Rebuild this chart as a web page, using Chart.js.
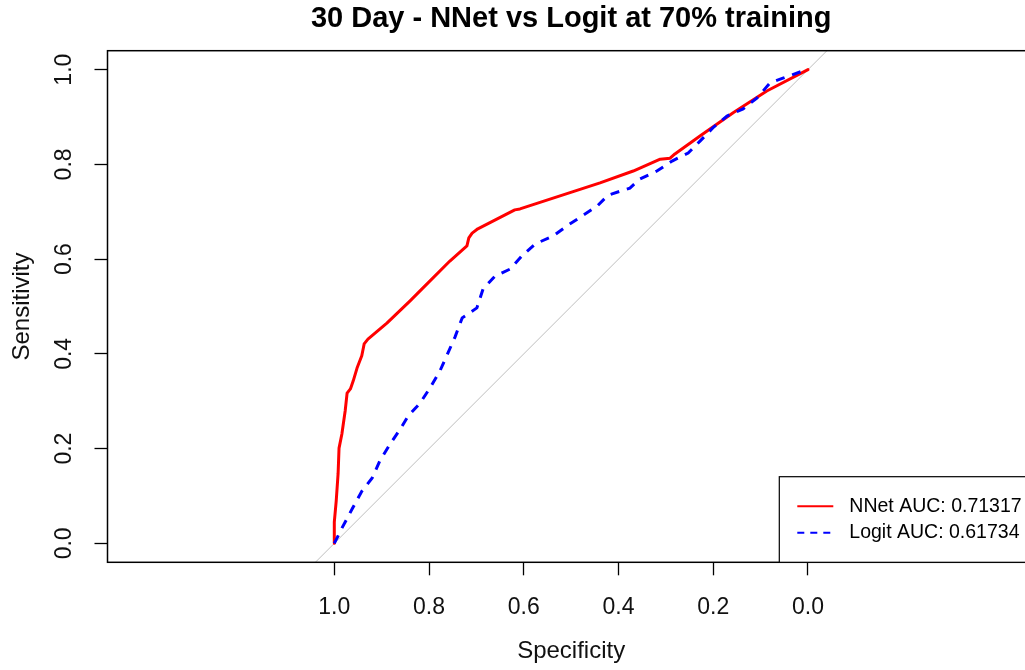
<!DOCTYPE html>
<html>
<head>
<meta charset="utf-8">
<title>30 Day - NNet vs Logit at 70% training</title>
<script src="https://cdn.jsdelivr.net/npm/chart.js@4.4.1/dist/chart.umd.min.js"></script>
<style>
  html, body { margin: 0; padding: 0; background: #fff; overflow: hidden; }
  #wrap { width: 1060px; height: 670px; }
</style>
</head>
<body>
<div id="wrap"><canvas id="rocChart" width="1060" height="670"></canvas></div>
<script>
// ROC curve points (specificity, sensitivity)
const nnetSpec = [1.0, 1.0, 0.996, 0.992, 0.990, 0.984, 0.977, 0.973, 0.966, 0.960, 0.952, 0.942, 0.937, 0.929, 0.889, 0.840, 0.819, 0.756, 0.720, 0.716, 0.709, 0.697, 0.619, 0.608, 0.439, 0.369, 0.312, 0.291, 0.281, 0.228, 0.158, 0.087, 0.0];
const nnetSens = [0.0, 0.045, 0.089, 0.147, 0.201, 0.231, 0.280, 0.317, 0.326, 0.343, 0.370, 0.396, 0.421, 0.431, 0.465, 0.512, 0.533, 0.596, 0.628, 0.645, 0.655, 0.664, 0.704, 0.706, 0.761, 0.786, 0.811, 0.813, 0.822, 0.860, 0.909, 0.955, 1.0];

const logitSpec = [1.0, 0.984, 0.961, 0.942, 0.920, 0.904, 0.882, 0.861, 0.844, 0.819, 0.798, 0.777, 0.760, 0.745, 0.730, 0.699, 0.686, 0.661, 0.629, 0.604, 0.576, 0.538, 0.509, 0.477, 0.445, 0.422, 0.376, 0.355, 0.319, 0.287, 0.253, 0.228, 0.201, 0.171, 0.137, 0.108, 0.080, 0.053, 0.006, 0.0];
const logitSens = [0.0, 0.032, 0.075, 0.110, 0.138, 0.174, 0.210, 0.241, 0.269, 0.296, 0.328, 0.364, 0.402, 0.436, 0.476, 0.497, 0.537, 0.564, 0.579, 0.607, 0.632, 0.649, 0.670, 0.691, 0.712, 0.735, 0.750, 0.769, 0.786, 0.807, 0.824, 0.849, 0.877, 0.902, 0.917, 0.940, 0.972, 0.982, 0.999, 1.0];

// chance line, runs corner to corner of the plot box
const diagSpec = [1.04, -0.04];
const diagSens = [-0.04, 1.04];

const xTicks = [1.0, 0.8, 0.6, 0.4, 0.2, 0.0];
const yTicks = [0.0, 0.2, 0.4, 0.6, 0.8, 1.0];
const seriesLabels = ['NNet AUC: 0.71317', 'Logit AUC: 0.61734'];
const chartTitle = '30 Day - NNet vs Logit at 70% training';

const FONT = '"Liberation Sans", Arial, sans-serif';
Chart.defaults.font.family = FONT;
Chart.defaults.color = '#000';

function zip(xs, ys) {
  return xs.map((x, i) => ({ x: x, y: ys[i] }));
}

// Title over the plot region, frame round the plot, legend box bottom right
const frameAndLegend = {
  id: 'frameAndLegend',
  afterDraw(chart) {
    const { ctx, chartArea } = chart;
    const ca = chartArea;
    ctx.save();

    ctx.fillStyle = '#000';
    ctx.font = 'bold 29px ' + FONT;
    ctx.textAlign = 'center';
    ctx.textBaseline = 'middle';
    ctx.fillText(chartTitle, (ca.left + ca.right) / 2, 19);

    ctx.strokeStyle = '#000';
    ctx.lineWidth = 1.5;
    ctx.strokeRect(ca.left, ca.top, ca.right - ca.left, ca.bottom - ca.top);

    // legend
    const lx = ca.right - 255.5;
    const ly = ca.bottom - 85.6;
    ctx.fillStyle = '#fff';
    ctx.fillRect(lx, ly, ca.right - lx, ca.bottom - ly);
    ctx.lineWidth = 1.2;
    ctx.strokeRect(lx, ly, ca.right - lx, ca.bottom - ly);

    const rows = [ly + 29.5, ly + 56];
    chart.data.datasets.slice(0, 2).forEach((ds, i) => {
      ctx.beginPath();
      ctx.strokeStyle = ds.borderColor;
      ctx.lineWidth = 2;
      ctx.setLineDash(ds.borderDash ? [7, 6] : []);
      ctx.moveTo(lx + 18, rows[i]);
      ctx.lineTo(lx + 54, rows[i]);
      ctx.stroke();
      ctx.setLineDash([]);
      ctx.fillStyle = '#000';
      ctx.font = '19.5px ' + FONT;
      ctx.textAlign = 'left';
      ctx.textBaseline = 'middle';
      ctx.fillText(ds.label, lx + 70, rows[i]);
    });
    ctx.restore();
  }
};

const ctx = document.getElementById('rocChart');
new Chart(ctx, {
  type: 'scatter',
  data: {
    datasets: [
      {
        label: seriesLabels[0],
        data: zip(nnetSpec, nnetSens),
        showLine: true,
        borderColor: '#FF0000',
        borderWidth: 3,
        borderCapStyle: 'round',
        borderJoinStyle: 'round',
        pointRadius: 0,
        tension: 0,
        order: 1
      },
      {
        label: seriesLabels[1],
        data: zip(logitSpec, logitSens),
        showLine: true,
        borderColor: '#0000FF',
        borderWidth: 3,
        borderDash: [9, 8],
        pointRadius: 0,
        tension: 0,
        order: 0
      },
      {
        label: 'chance',
        data: zip(diagSpec, diagSens),
        showLine: true,
        borderColor: '#BEBEBE',
        borderWidth: 1,
        pointRadius: 0,
        order: 2
      }
    ]
  },
  options: {
    responsive: false,
    animation: false,
    layout: { padding: { top: 50.7, right: 25.2, left: 0, bottom: 0 } },
    plugins: {
      legend: { display: false },
      title: { display: false },
      tooltip: { enabled: false }
    },
    scales: {
      x: {
        type: 'linear',
        reverse: true,
        min: -0.4788,
        max: 1.4788,
        afterBuildTicks: s => { s.ticks = xTicks.map(v => ({ value: v })); },
        afterFit: s => { s.height = 107.7; },
        ticks: {
          callback: v => v.toFixed(1),
          font: { size: 23 },
          color: '#111',
          padding: 19,
          maxRotation: 0,
          autoSkip: false
        },
        grid: { drawOnChartArea: false, drawTicks: true, tickLength: 13, tickColor: '#000', tickWidth: 1.3 },
        border: { display: false },
        title: { display: true, text: 'Specificity', font: { size: 24 }, color: '#111', padding: { top: 0, bottom: 4.6 } }
      },
      y: {
        type: 'linear',
        min: -0.04,
        max: 1.04,
        afterBuildTicks: s => { s.ticks = yTicks.map(v => ({ value: v })); },
        afterFit: s => { s.width = 107.5; },
        ticks: {
          callback: v => v.toFixed(1),
          font: { size: 23 },
          color: '#111',
          padding: 13.5,
          minRotation: 90,
          maxRotation: 90,
          crossAlign: 'center',
          autoSkip: false
        },
        grid: { drawOnChartArea: false, drawTicks: true, tickLength: 13, tickColor: '#000', tickWidth: 1.3 },
        border: { display: false },
        title: { display: true, text: 'Sensitivity', font: { size: 24 }, color: '#111', padding: { top: 7.6, bottom: 0 } }
      }
    }
  },
  plugins: [frameAndLegend]
});
</script>
</body>
</html>
